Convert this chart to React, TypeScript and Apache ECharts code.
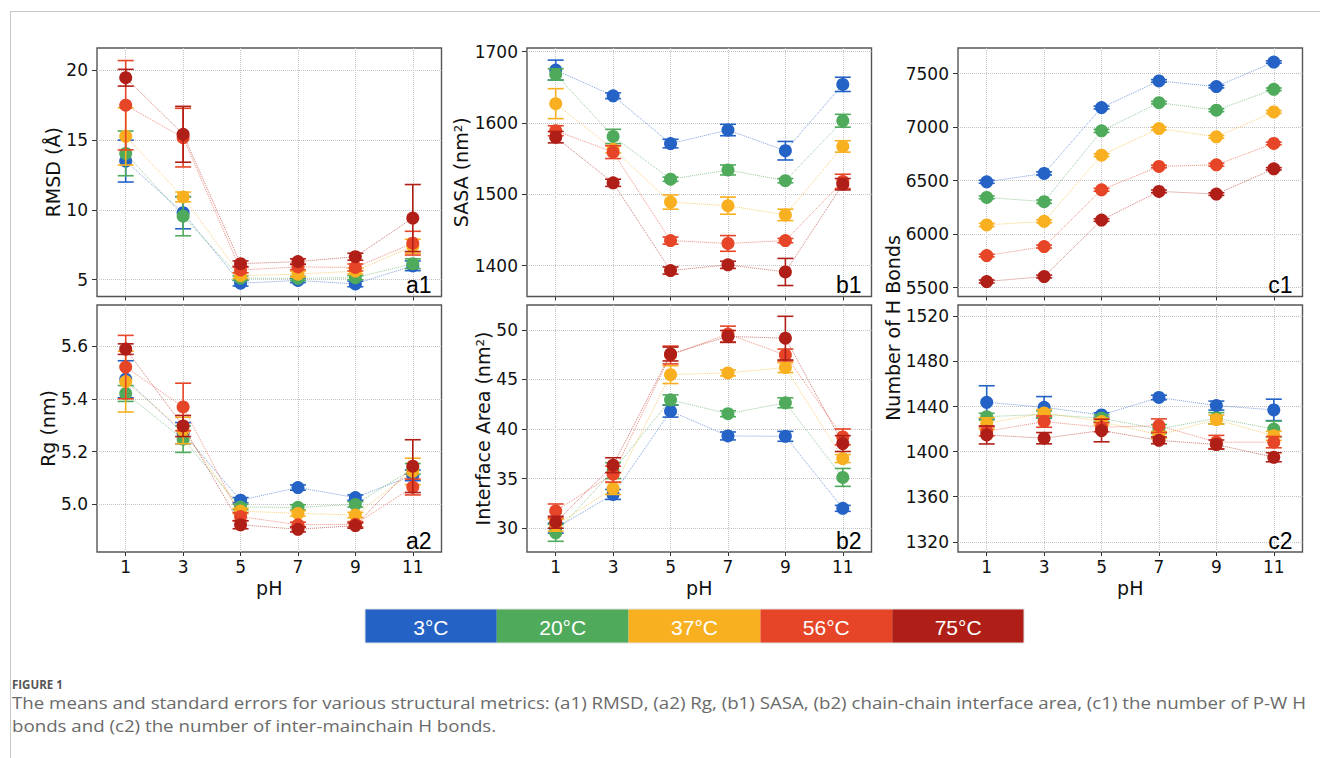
import React, { useEffect, useRef } from 'react';
import * as echarts from 'echarts';

// ---------- data ----------
const phLabels = ['1', '3', '5', '7', '9', '11'];
const temperatures = ['3°C', '20°C', '37°C', '56°C', '75°C'];
const tempColors = ['#2462c6', '#4fab5b', '#f8b020', '#e64527', '#b01f17'];

// rows: 3, 20, 37, 56, 75 °C ; columns: pH 1..11
const rmsdMean = [
  [13.5, 9.8, 4.75, 4.95, 4.7, 6.0],
  [14.05, 9.55, 5.12, 5.1, 5.15, 6.15],
  [15.27, 10.93, 5.3, 5.4, 5.62, 7.4],
  [17.5, 15.18, 5.7, 5.92, 5.88, 7.62],
  [19.47, 15.42, 6.15, 6.3, 6.65, 9.42],
];
const rmsdErr = [
  [1.5, 1.15, 0.2, 0.15, 0.2, 0.35],
  [1.6, 1.4, 0.15, 0.15, 0.15, 0.35],
  [2.05, 0.35, 0.2, 0.2, 0.2, 0.5],
  [3.2, 2.1, 0.2, 0.2, 0.25, 0.85],
  [0.6, 2.0, 0.2, 0.2, 0.25, 2.4],
];
const rgMean = [
  [5.474, 5.27, 5.016, 5.064, 5.026, 5.11],
  [5.42, 5.247, 4.99, 4.989, 5.0, 5.135],
  [5.465, 5.28, 4.975, 4.966, 4.96, 5.125],
  [5.52, 5.369, 4.954, 4.923, 4.925, 5.066],
  [5.588, 5.297, 4.923, 4.906, 4.92, 5.145],
];
const rgErr = [
  [0.07, 0.04, 0.01, 0.01, 0.01, 0.02],
  [0.03, 0.05, 0.01, 0.01, 0.01, 0.02],
  [0.115, 0.05, 0.01, 0.01, 0.01, 0.05],
  [0.12, 0.09, 0.015, 0.01, 0.01, 0.03],
  [0.02, 0.04, 0.015, 0.01, 0.01, 0.1],
];
const sasaMean = [
  [1674, 1638, 1571, 1590, 1561, 1654],
  [1668, 1581, 1521, 1534, 1519, 1603],
  [1627, 1563, 1489, 1484, 1471, 1567],
  [1589, 1559, 1435, 1431, 1435, 1518],
  [1580, 1516, 1393, 1401, 1391, 1514],
];
const sasaErr = [
  [14, 4, 6, 8, 13, 10],
  [8, 10, 3, 7, 3, 9],
  [21, 5, 10, 12, 8, 8],
  [7, 9, 5, 11, 3, 10],
  [8, 5, 5, 5, 19, 8],
];
const areaMean = [
  [30.0, 33.4, 41.8, 39.3, 39.26, 32.0],
  [29.53, 35.8, 42.94, 41.54, 42.64, 35.12],
  [30.3, 34.0, 45.48, 45.65, 46.19, 37.02],
  [31.74, 35.45, 47.46, 49.57, 47.46, 39.2],
  [30.6, 36.35, 47.56, 49.33, 49.16, 38.53],
];
const areaErr = [
  [0.5, 0.5, 0.6, 0.4, 0.5, 0.3],
  [0.85, 0.8, 0.5, 0.3, 0.5, 0.9],
  [0.6, 0.6, 0.9, 0.3, 0.5, 0.4],
  [0.7, 0.8, 0.9, 0.8, 0.6, 0.8],
  [0.6, 0.75, 0.7, 0.6, 2.2, 0.8],
];
const pwMean = [
  [6489, 6567, 7183, 7432, 7379, 7609],
  [6343, 6303, 6965, 7229, 7158, 7354],
  [6085, 6119, 6738, 6987, 6909, 7142],
  [5799, 5883, 6414, 6632, 6648, 6847],
  [5556, 5603, 6131, 6399, 6374, 6610],
];
const pwErr = [
  [14, 15, 13, 12, 12, 11],
  [13, 16, 14, 12, 13, 12],
  [15, 14, 13, 14, 12, 13],
  [12, 14, 13, 12, 13, 12],
  [14, 13, 12, 13, 12, 11],
];
const mcMean = [
  [1443.7, 1439.3, 1432.5, 1448, 1440.8, 1437],
  [1431, 1433, 1429.6, 1420, 1429.6, 1420],
  [1425, 1434.3, 1426.6, 1414.8, 1428.4, 1414],
  [1418, 1426.6, 1421.6, 1423, 1408.4, 1408.4],
  [1414.8, 1411.9, 1418.7, 1410, 1406.3, 1395],
];
const mcErr = [
  [14.7, 9.5, 2, 2, 4, 9.5],
  [3, 3, 3, 4, 5, 7],
  [5, 3, 3, 3, 4, 4],
  [4, 5, 4, 6, 6, 5],
  [8, 5, 10, 3, 4, 4],
];

const rmsdTicks = [5, 10, 15, 20];
const rgTicks = [5.0, 5.2, 5.4, 5.6];
const sasaTicks = [1400, 1500, 1600, 1700];
const areaTicks = [30, 35, 40, 45, 50];
const pwTicks = [5500, 6000, 6500, 7000, 7500];
const mcTicks = [1320, 1360, 1400, 1440, 1480, 1520];

const panelLabels = ['a1', 'b1', 'c1', 'a2', 'b2', 'c2'];
const yTitles = ['RMSD (Å)', 'SASA (nm²)', '', 'Rg (nm)', 'Interface Area (nm²)', ''];
const sharedYTitle = 'Number of H Bonds';
const captionHead = 'FIGURE 1';
const captionLines = [
  'The means and standard errors for various structural metrics: (a1) RMSD, (a2) Rg, (b1) SASA, (b2) chain-chain interface area, (c1) the number of P-W H',
  'bonds and (c2) the number of inter-mainchain H bonds.',
];

// ---------- layout ----------
const colLeft = [97, 527, 958];
const boxW = 344.5;
const rowTop = [48, 305];
const rowH = [248.5, 247];
const TICK_FONT = '"DejaVu Sans", sans-serif';

const panels = [
  { mean: rmsdMean, err: rmsdErr, ticks: rmsdTicks, min: 3.8, max: 21.6, iv: 5, gap: 34.5, dec: 0 },
  { mean: sasaMean, err: sasaErr, ticks: sasaTicks, min: 1356.6, max: 1705, iv: 100, gap: 57, dec: 0 },
  { mean: pwMean, err: pwErr, ticks: pwTicks, min: 5416, max: 7740, iv: 500, gap: 50, dec: 0 },
  { mean: rgMean, err: rgErr, ticks: rgTicks, min: 4.82, max: 5.755, iv: 0.2, gap: 39.5, dec: 1 },
  { mean: areaMean, err: areaErr, ticks: areaTicks, min: 27.6, max: 52.5, iv: 5, gap: 35, dec: 0 },
  { mean: mcMean, err: mcErr, ticks: mcTicks, min: 1311, max: 1530, iv: 40, gap: 50, dec: 0 },
];

const makeErrRender = (color: string) => (_params: any, api: any) => {
  const x = api.value(0);
  const lo = api.coord([x, api.value(1)]);
  const hi = api.coord([x, api.value(2)]);
  const cw = 8;
  const style = { stroke: color, lineWidth: 1.6, fill: 'none' };
  return {
    type: 'group',
    children: [
      { type: 'line', shape: { x1: lo[0], y1: lo[1], x2: hi[0], y2: hi[1] }, style },
      { type: 'line', shape: { x1: lo[0] - cw, y1: lo[1], x2: lo[0] + cw, y2: lo[1] }, style },
      { type: 'line', shape: { x1: hi[0] - cw, y1: hi[1], x2: hi[0] + cw, y2: hi[1] }, style },
    ],
  };
};

function buildOption() {
  const grid: any[] = [];
  const xAxis: any[] = [];
  const yAxis: any[] = [];
  const series: any[] = [];
  const graphic: any[] = [];

  panels.forEach((p, i) => {
    const col = i % 3;
    const row = Math.floor(i / 3);
    const left = colLeft[col];
    const top = rowTop[row];
    const h = rowH[row];
    grid.push({
      left, top, width: boxW, height: h,
      show: true, borderColor: '#555', borderWidth: 1.4, backgroundColor: 'transparent',
      containLabel: false,
    });
    const bottomRow = row === 1;
    xAxis.push({
      gridIndex: i, type: 'category', data: phLabels, boundaryGap: true,
      axisLine: { show: false },
      axisTick: { show: true, alignWithLabel: true, length: 4, lineStyle: { color: '#333', width: 1 } },
      axisLabel: { show: bottomRow, fontFamily: TICK_FONT, fontSize: 17, color: '#111', margin: 6 },
      splitLine: { show: true, alignWithLabel: true, lineStyle: { color: '#c4c4c4', type: 'dotted', width: 1 } },
      name: bottomRow ? 'pH' : '', nameLocation: 'middle', nameGap: 26,
      nameTextStyle: { fontFamily: TICK_FONT, fontSize: 19, color: '#111' },
    });
    yAxis.push({
      gridIndex: i, type: 'value', min: p.min, max: p.max, minInterval: p.iv, maxInterval: p.iv,
      axisLine: { show: false },
      axisTick: { show: true, length: 5, customValues: p.ticks, lineStyle: { color: '#333', width: 1 } },
      axisLabel: {
        show: true, customValues: p.ticks, fontFamily: TICK_FONT, fontSize: 17, color: '#111', margin: 9,
        formatter: (v: number) => v.toFixed(p.dec),
      },
      splitLine: { show: true, lineStyle: { color: '#c4c4c4', type: 'dotted', width: 1 } },
      name: yTitles[i], nameLocation: 'middle', nameGap: p.gap,
      nameTextStyle: { fontFamily: TICK_FONT, fontSize: 19, color: '#111' },
    });

    temperatures.forEach((t, k) => {
      const color = tempColors[k];
      series.push({
        type: 'custom', name: t, xAxisIndex: i, yAxisIndex: i, silent: true,
        z: 10 + k * 2,
        renderItem: makeErrRender(color),
        encode: { x: 0, y: [1, 2] },
        data: p.mean[k].map((m, j) => [j, m - p.err[k][j], m + p.err[k][j]]),
      });
      series.push({
        type: 'line', name: t, xAxisIndex: i, yAxisIndex: i, silent: true,
        z: 11 + k * 2,
        data: p.mean[k], symbol: 'circle', symbolSize: 13, showSymbol: true,
        itemStyle: { color, opacity: 1 },
        lineStyle: { color, width: 1, type: 'dotted', opacity: 0.6 },
      });
    });

    graphic.push({
      type: 'text', x: left + boxW - 10, y: top + h, z: 100,
      style: { text: panelLabels[i], font: '23px "Liberation Sans", Arial, sans-serif', fill: '#000', align: 'right', verticalAlign: 'bottom' },
    });
  });

  // frame
  graphic.push({ type: 'line', shape: { x1: 10, y1: 11.5, x2: 1320, y2: 11.5 }, style: { stroke: '#c9c9c9', lineWidth: 1 } });
  graphic.push({ type: 'line', shape: { x1: 10.5, y1: 11.5, x2: 10.5, y2: 758 }, style: { stroke: '#c9c9c9', lineWidth: 1 } });

  // shared y title for c column
  graphic.push({
    type: 'text', x: 893, y: 328, rotation: Math.PI / 2,
    style: { text: sharedYTitle, font: '19px "DejaVu Sans", sans-serif', fill: '#111', align: 'center', verticalAlign: 'middle' },
  });

  // legend bar
  const lx = 365, ly = 609, lw = 131.8, lh = 34;
  temperatures.forEach((t, k) => {
    graphic.push({ type: 'rect', shape: { x: lx + k * lw, y: ly, width: lw, height: lh }, style: { fill: tempColors[k] } });
    graphic.push({
      type: 'text', x: lx + k * lw + lw / 2, y: ly + lh / 2 + 1,
      style: { text: t, font: '21px "Liberation Sans", Arial, sans-serif', fill: '#fff', align: 'center', verticalAlign: 'middle' },
    });
  });
  graphic.push({ type: 'rect', shape: { x: lx, y: ly, width: lw * 5, height: lh }, style: { fill: 'none', stroke: '#e0e0e0', lineWidth: 1 } });

  // caption
  graphic.push({
    type: 'text', x: 12, y: 684,
    style: { text: captionHead, font: 'bold 11.5px "Open Sans", sans-serif', fill: '#555', align: 'left', verticalAlign: 'middle' },
  });
  captionLines.forEach((line, i) => {
    graphic.push({
      type: 'text', x: 12, y: 702 + i * 23, scaleX: 1.1, originX: 0,
      style: { text: line, font: '17px "Open Sans", sans-serif', fill: '#6a6a6a', align: 'left', verticalAlign: 'middle' },
    });
  });

  return {
    animation: false,
    backgroundColor: '#fff',
    grid, xAxis, yAxis, series, graphic,
  };
}

export default function App() {
  const ref = useRef<HTMLDivElement>(null);
  useEffect(() => {
    if (!ref.current) return;
    const chart = echarts.init(ref.current, undefined, { renderer: 'svg' });
    chart.setOption(buildOption() as any);
    return () => chart.dispose();
  }, []);
  return (
    <div
      ref={ref}
      style={{ position: 'fixed', left: 0, top: 0, width: 1320, height: 758, background: '#fff' }}
    />
  );
}
